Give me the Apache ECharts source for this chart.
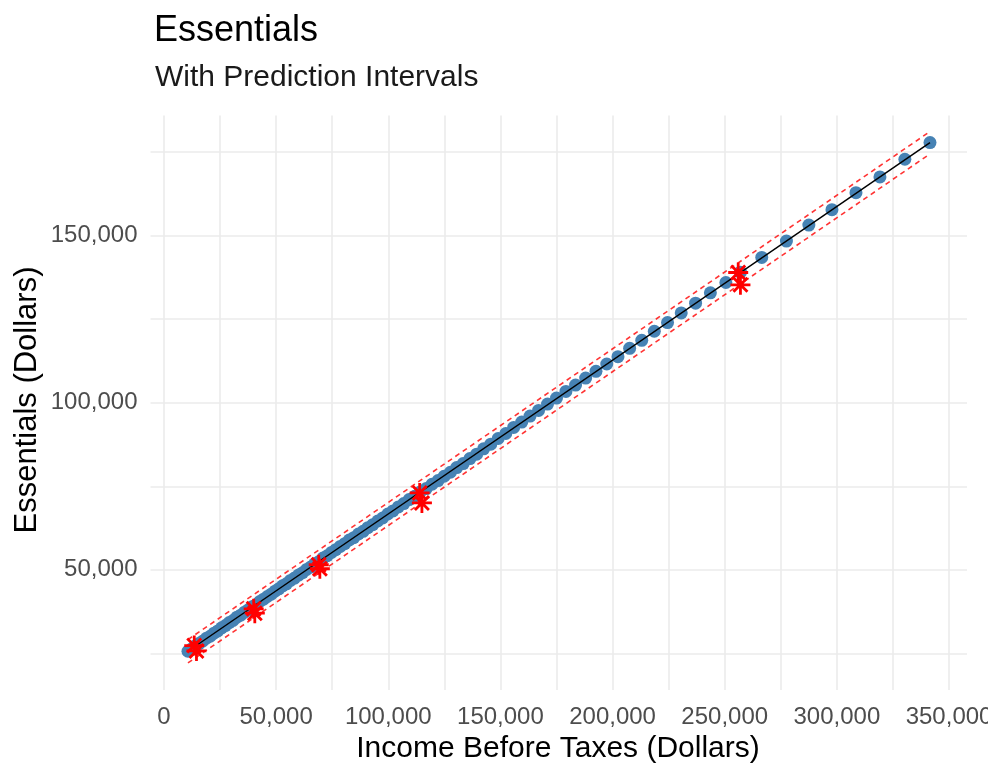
<!DOCTYPE html>
<html><head><meta charset="utf-8">
<script src="https://cdn.jsdelivr.net/npm/echarts@6/dist/echarts.min.js"></script>
<style>html,body{margin:0;padding:0;background:#fff}#c{width:988px;height:767px}</style>
</head><body><div id="c"></div>
<script>
// Observed data (thousands of dollars converted below)
const incomeK = [10.7,12.3,13.9,15.6,17.2,18.9,20.6,22.3,24.0,25.7,27.4,29.1,30.8,32.5,34.2,35.9,37.6,39.3,41.0,42.7,44.4,46.1,47.8,49.5,51.2,52.9,54.6,56.4,58.2,60.0,61.8,63.6,65.4,67.2,69.0,70.9,72.8,74.7,76.6,78.6,80.6,82.6,84.6,86.7,88.8,90.9,93.1,95.3,97.5,99.8,102.1,104.5,106.9,109.3,111.8,114.3,116.9,119.5,122.2,124.9,127.7,130.5,133.4,136.4,139.4,142.5,145.7,149.0,152.4,155.9,159.5,163.2,167.0,171.0,175.0,179.2,183.5,188.0,192.6,197.4,202.4,207.6,213.0,218.6,224.5,230.6,237.0,243.6,250.5,257.0,266.5,277.5,287.5,297.8,308.5,319.2,330.3,341.5];
const essentialsK = [25.6,26.3,27.2,27.9,28.6,29.5,30.1,31.0,31.7,32.6,33.3,34.2,34.8,35.8,36.4,37.3,38.0,38.9,39.5,40.5,41.2,42.0,42.7,43.6,44.3,45.2,45.8,46.8,47.5,48.4,49.1,50.1,50.8,51.8,52.4,53.5,54.2,55.2,56.0,57.0,57.8,58.9,59.6,60.7,61.5,62.6,63.5,64.6,65.5,66.7,67.6,68.8,69.8,71.0,72.0,73.3,74.3,75.6,76.7,78.0,79.2,80.6,81.8,83.3,84.6,86.2,87.6,89.3,90.8,92.6,94.2,96.0,97.7,99.6,101.4,103.4,105.3,107.4,109.4,111.6,113.8,116.3,118.7,121.4,124.0,126.9,129.8,132.9,136.0,139.1,143.5,148.4,153.2,157.8,162.9,167.6,172.9,177.9];
// Regression fit
const fitIncome = [10700, 341500];
const fitEssentials = [25600, 177900];
// Prediction interval bounds
const piIncome = [10700, 341500];
const piUpper = [29100, 181200];
const piLower = [22100, 174500];
// New predictions (red asterisks)
const starIncome = [13500, 40000, 69000, 114000, 256000];
const starEssentials = [27300, 38300, 51500, 73000, 139000];
const star2Income = [14500, 40500, 69500, 115000, 257000];
const star2Essentials = [25700, 37000, 50300, 70000, 135300];
// Axis ticks
const xTicks = [0, 50000, 100000, 150000, 200000, 250000, 300000, 350000];
const yTicks = [50000, 100000, 150000];

const zip = (a, b, s) => a.map((v, i) => [v * (s || 1), b[i] * (s || 1)]);
const GRID = '#ebebeb';
function gridColors(min, step, minorStep) {
  const n = minorStep / step, arr = [];
  for (let k = 0; k < n; k++) arr.push(((min + k * step) % minorStep === 0) ? GRID : 'rgba(0,0,0,0)');
  return arr;
}
const xMin = -6000, xMax = 358000, yMin = 14000, yMax = 186000, step = 1000;
const fmt = v => v.toLocaleString('en-US');
const starPath = 'path://M43 0L57 0L57 100L43 100Z M0 43L100 43L100 57L0 57Z M10 20L20 10L90 80L80 90Z M80 10L90 20L20 90L10 80Z';

const chart = echarts.init(document.getElementById('c'), null, {renderer: 'canvas'});
chart.setOption({
  backgroundColor: '#fff',
  animation: false,
  title: [
    {text: 'Essentials', left: 149, top: 8, textStyle: {fontFamily: 'Liberation Sans', fontSize: 36, fontWeight: 'normal', color: '#000'}},
    {text: 'With Prediction Intervals', left: 150, top: 58, textStyle: {fontFamily: 'Liberation Sans', fontSize: 30, fontWeight: 'normal', color: '#1a1a1a'}}
  ],
  grid: {left: 150.5, right: 21, top: 115.5, bottom: 77, containLabel: false, outerBoundsMode: 'none'},
  xAxis: {
    type: 'value', min: xMin, max: xMax, interval: step,
    axisLine: {show: false}, axisTick: {show: false},
    splitLine: {show: true, lineStyle: {color: gridColors(xMin, step, 25000), width: 1.6}},
    axisLabel: {margin: 15, fontFamily: 'Liberation Sans', fontSize: 24, color: '#4d4d4d', hideOverlap: false,
      formatter: v => xTicks.includes(v) ? fmt(v) : ''}
  },
  yAxis: {
    type: 'value', min: yMin, max: yMax, interval: step,
    axisLine: {show: false}, axisTick: {show: false},
    splitLine: {show: true, lineStyle: {color: gridColors(yMin, step, 25000), width: 1.6}},
    axisLabel: {margin: 13, fontFamily: 'Liberation Sans', fontSize: 24, color: '#4d4d4d',
      formatter: v => yTicks.includes(v) ? fmt(v) : ''}
  },
  graphic: [
    {type: 'text', x: 27, y: 400, rotation: Math.PI / 2, style: {text: 'Essentials (Dollars)', font: '31px "Liberation Sans"', fill: '#000', align: 'center', verticalAlign: 'middle'}},
    {type: 'text', x: 558, y: 749, style: {text: 'Income Before Taxes (Dollars)', font: '30px "Liberation Sans"', fill: '#000', align: 'center', verticalAlign: 'middle'}}
  ],
  series: [
    {type: 'scatter', data: zip(incomeK, essentialsK, 1000), symbol: 'circle', symbolSize: 13,
      itemStyle: {color: '#4682b4', opacity: 1}, z: 2},
    {type: 'line', data: zip(fitIncome, fitEssentials), showSymbol: false,
      lineStyle: {color: '#000', width: 1.5}, z: 3},
    {type: 'line', data: zip(piIncome, piUpper), showSymbol: false,
      lineStyle: {color: 'rgba(255,0,0,0.8)', width: 1.6, type: [5, 4]}, z: 4},
    {type: 'line', data: zip(piIncome, piLower), showSymbol: false,
      lineStyle: {color: 'rgba(255,0,0,0.8)', width: 1.6, type: [5, 4]}, z: 4},
    {type: 'scatter', data: zip(starIncome, starEssentials), symbol: starPath, symbolSize: 20,
      itemStyle: {color: '#ff0000', opacity: 1}, z: 5},
    {type: 'scatter', data: zip(star2Income, star2Essentials), symbol: starPath, symbolSize: 20,
      itemStyle: {color: '#ff0000', opacity: 1}, z: 5}
  ]
});
</script></body></html>
